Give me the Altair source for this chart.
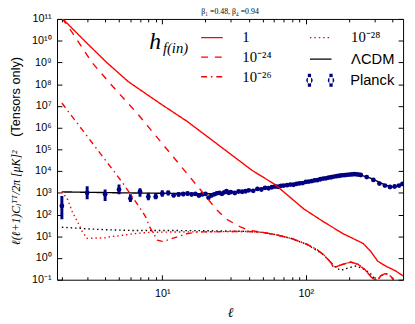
import altair as alt
import pandas as pd

title_text = "β₁ =0.48, β₄ =0.94"

# red solid, h_f(in) = 1
l_1 = [2, 3, 4.1, 5.8, 10, 14.8, 42, 61, 97, 133, 182, 250, 283, 316, 358, 419, 475]
d_1 = [1.1e11, 7.5e9, 1.0e9, 1.3e8, 1.1e7, 2.0e6, 1.1e4, 2.4e3, 178, 46, 13, 4.7, 2.0, 0.72, 0.43, 0.26, 0.15]
# red dashed, 1e-24
l_24 = [2, 2.37, 3.24, 4.22, 6.76, 7.9, 19.2, 23.7, 27.7, 35, 40]
d_24 = [1.1e11, 2.3e10, 1.0e9, 1.3e8, 4.2e6, 1.2e6, 1.0e3, 178, 63, 27, 19]
# red dash-dot, 1e-26
l_26 = [2, 5.2, 7.08, 7.66, 8.15, 9.25, 10, 10.8, 12.7, 14.8, 17.3]
d_26 = [1.35e7, 3.4e3, 178, 78, 27.5, 6.6, 5.8, 6.6, 9.3, 13, 15.6]
# red dotted, 1e-28
l_28 = [2, 2.19, 2.37, 2.57, 2.78, 3, 4, 4.4, 5, 6, 7, 8, 10, 14]
d_28 = [1150, 500, 128, 46, 16, 8, 8.5, 9.7, 10.5, 12.5, 14, 15, 15.5, 15.8]
# common high-l part of the red curves
l_tail = [20, 30, 40, 50, 61, 80, 102, 120, 133, 150, 156, 177, 205, 230, 258, 283, 300, 315, 331, 355, 375, 395, 410, 475]
d_tail = [16, 16.5, 16.5, 15, 12, 7.8, 4.2, 2.4, 1.4, 0.6, 0.35, 0.49, 0.65, 0.52, 0.29, 0.14, 0.1, 0.09, 0.15, 0.19, 0.18, 0.13, 0.09, 0.05]
# LCDM tensors (black dotted)
l_t = [2, 3, 4, 6, 10, 20, 36, 47, 61, 79, 102, 133, 150, 163, 175, 200, 224, 250, 280, 306, 330, 400, 475]
d_t = [26, 22, 20, 18.5, 18.5, 18, 17, 15.8, 12, 7.9, 4.2, 1.4, 0.6, 0.35, 0.27, 0.36, 0.43, 0.32, 0.2, 0.1, 0.06, 0.05, 0.04]
# LCDM total (black solid)
l_lcdm = [2, 5, 10, 20, 25, 30, 40, 50, 60, 80, 100, 130, 170, 200, 222, 245, 280, 316, 358, 400, 440, 475]
d_lcdm = [1100, 1000, 950, 900, 920, 1000, 1250, 1600, 1950, 2550, 3300, 4900, 6400, 7000, 7100, 6300, 4800, 3350, 2250, 1850, 2050, 2500]

# Planck low-l
pl_l_low = list(range(2, 30))
pl_d_low = [250, 1000, 850, 1410, 540, 1120, 660, 660, 910, 1000, 780, 850, 880, 930, 850, 900, 760, 850, 900, 600,
            760, 850, 950, 1000, 900, 1050, 1190, 1000]
pl_min_low = [60, 500, 420, 850, 380, 650, 450, 500, 660, 760, 600, 660, 690, 740, 680, 720, 610, 690, 730, 490,
              630, 710, 790, 840, 760, 890, 1010, 860]
pl_max_low = [720, 2000, 1410, 2380, 850, 1600, 1000, 930, 1320, 1290, 990, 1060, 1080, 1130, 1030, 1090, 920, 1020, 1070, 720,
              900, 1000, 1120, 1170, 1050, 1220, 1380, 1150]
# Planck high-l
pl_l_high = [30, 32, 34, 36, 38, 40, 43, 46, 49, 52, 55, 58, 61, 64, 67, 70, 74, 78, 82, 86, 90, 95, 100, 105, 110,
             115, 120, 126, 132, 138, 144, 150, 157, 164, 171, 178, 185, 193, 201, 209, 217, 225, 233, 241, 265, 295,
             325, 355, 385, 415, 445, 470]
pl_d_high = [1080, 980, 1150, 1120, 1180, 1300, 1230, 1500, 1420, 1700, 1620, 1800, 1950, 1900, 2100, 2150, 2250, 2400,
             2350, 2600, 2700, 2800, 3150, 3300, 3450, 3750, 3800, 4200, 4500, 4650, 5000, 5200, 5600, 5800, 6100, 6400,
             6500, 6700, 6900, 7000, 7200, 7100, 6900, 6600, 5300, 3900, 2650, 2150, 1850, 1950, 2150, 2550]
pl_e_high = [150, 140, 150, 140, 140, 150, 130, 150, 140, 150, 140, 150, 150, 140, 150, 140, 140, 150, 140, 150, 150,
             150, 160, 160, 160, 170, 170, 180, 190, 190, 200, 200, 210, 210, 220, 220, 220, 230, 230, 230, 240, 240,
             230, 230, 200, 150, 100, 80, 70, 70, 70, 80]

red_names = ["1", "10⁻²⁴", "10⁻²⁶"]
red_dashes = [[1, 0], [7, 7], [6, 4, 1.5, 4]]
dotted_name = "10⁻²⁸"
lcdm_name = "ΛCDM"
planck_name = "Planck"

x_major = [10, 100]
x_major_labels = ["10¹", "10²"]
x_minor = [2, 3, 4, 5, 6, 7, 8, 9, 20, 30, 40, 50, 60, 70, 80, 90, 200, 300, 400]
y_major = [1e-1, 1e0, 1e1, 1e2, 1e3, 1e4, 1e5, 1e6, 1e7, 1e8, 1e9, 1e10, 1e11]
y_major_labels = ["10⁻¹", "10⁰", "10¹", "10²", "10³", "10⁴", "10⁵", "10⁶", "10⁷", "10⁸", "10⁹", "10¹⁰", "10¹¹"]


def label_expr(vals, labs):
    expr = "'" + labs[-1] + "'"
    for v, lab in reversed(list(zip(vals[:-1], labs[:-1]))):
        expr = f"datum.value < {v * 2.0} ? '{lab}' : " + expr
    return expr


rows = []
for name, ls, ds in [("1", l_1, d_1), ("10⁻²⁴", l_24, d_24), ("10⁻²⁶", l_26, d_26)]:
    for l, d in zip(ls, ds):
        rows.append({"l": l, "D": d, "s": name})
    if name != "1":
        for l, d in zip(l_tail, d_tail):
            if l > ls[-1]:
                rows.append({"l": l, "D": d, "s": name})
red_df = pd.DataFrame(rows)
dot_rows = [{"l": l, "D": d, "s": dotted_name} for l, d in zip(l_28, d_28)]
dot_rows += [{"l": l, "D": d, "s": dotted_name} for l, d in zip(l_tail, d_tail) if l > l_28[-1]]
dot_df = pd.DataFrame(dot_rows)
lcdm_df = pd.DataFrame({"l": l_lcdm, "D": d_lcdm, "s": lcdm_name})
tens_df = pd.DataFrame({"l": l_t, "D": d_t})
low_df = pd.DataFrame({"l": pl_l_low, "D": pl_d_low, "lo": pl_min_low, "hi": pl_max_low})
high_df = pd.DataFrame({"l": pl_l_high, "D": pl_d_high,
                        "lo": [d - e for d, e in zip(pl_d_high, pl_e_high)],
                        "hi": [d + e for d, e in zip(pl_d_high, pl_e_high)]})
pl_df = pd.concat([low_df.assign(w="low"), high_df.assign(w="high")]).assign(s=planck_name)

xs = alt.Scale(type="log", domain=[1.85, 475], nice=False)
ys = alt.Scale(type="log", domain=[0.1, 1e11], nice=False)

common_ax = dict(grid=False, domain=False, tickColor="black", tickWidth=1)

ax_x_main = alt.Axis(orient="bottom", values=x_major, labelExpr=label_expr(x_major, x_major_labels),
                     tickSize=5, offset=-5, labelPadding=8, labelFont="Liberation Sans", labelFontSize=11,
                     labelColor="black", title="ℓ", titleFont="Liberation Serif", titleFontStyle="italic",
                     titleFontWeight="normal", titleFontSize=14, titleColor="black", titlePadding=8, **common_ax)
ax_y_main = alt.Axis(orient="left", values=y_major, labelExpr=label_expr(y_major, y_major_labels),
                     tickSize=5, offset=-5, labelPadding=6, labelFont="Liberation Sans", labelFontSize=11,
                     labelColor="black", title=None, **common_ax)
ax_x_minb = alt.Axis(orient="bottom", values=x_minor, tickSize=3, offset=-3, labels=False, title=None, **common_ax)
ax_y_right = alt.Axis(orient="right", values=y_major, tickSize=5, offset=-5, labels=False, title=None, **common_ax)
ax_x_top = alt.Axis(orient="top", values=x_major, tickSize=5, offset=-5, labels=False, title=None, **common_ax)
ax_y_t1 = alt.Axis(orient="left", ticks=False, labels=False, title="ℓ(ℓ+1)Cₗᵀᵀ/2π [μK]²",
                   titleFont="Liberation Serif", titleFontStyle="italic", titleFontWeight="normal",
                   titleFontSize=12, titleColor="black", titleX=-42, titleY=182, titleAngle=270,
                   titleAlign="center", titleBaseline="middle", **common_ax)
ax_x_topmin = alt.Axis(orient="top", values=x_minor, tickSize=3, offset=-3, labels=False, title=None, **common_ax)
ax_y_t2 = alt.Axis(orient="left", ticks=False, labels=False, title="(Tensors only)",
                   titleFont="Liberation Sans", titleFontWeight="normal",
                   titleFontSize=13, titleColor="black", titleX=-42, titleY=79, titleAngle=270,
                   titleAlign="center", titleBaseline="middle", **common_ax)

planck_path = ("M-1.15,-0.6H-0.85V0.6H-1.15Z M0.85,-0.6H1.15V0.6H0.85Z "
               "M-1.3,0A0.3,0.3 0 1,0 -0.7,0A0.3,0.3 0 1,0 -1.3,0Z "
               "M0.7,0A0.3,0.3 0 1,0 1.3,0A0.3,0.3 0 1,0 0.7,0Z")

leg_common = dict(title=None, orient="none", symbolSize=484, labelFontSize=15,
                  labelColor="black", labelOffset=19, rowPadding=0)
leg_red = alt.Legend(legendX=146, legendY=7, labelFont="Liberation Serif", symbolStrokeWidth=1.4, **leg_common)
leg_dot = alt.Legend(legendX=257, legendY=7, labelFont="Liberation Serif", symbolStrokeWidth=1.4, **leg_common)
leg_lcdm = alt.Legend(legendX=257, legendY=29, labelFont="Liberation Sans", symbolStrokeWidth=1.4, **leg_common)
leg_planck = alt.Legend(legendX=257, legendY=51, labelFont="Liberation Sans", symbolType=planck_path,
                        symbolFillColor="#000080", symbolStrokeColor="#000080", symbolStrokeWidth=0.3,
                        **leg_common)

tens = alt.Chart(tens_df).mark_line(clip=True, strokeWidth=1.4, color="black", strokeDash=[1.5, 3]).encode(
    x=alt.X("l:Q", scale=xs, axis=ax_x_main),
    y=alt.Y("D:Q", scale=ys, axis=ax_y_main),
)

lcdm = alt.Chart(lcdm_df).mark_line(clip=True, strokeWidth=1.4, color="black").encode(
    x=alt.X("l:Q", scale=xs, axis=ax_x_minb),
    y=alt.Y("D:Q", scale=ys, axis=ax_y_right),
    strokeDash=alt.StrokeDash("s:N", scale=alt.Scale(domain=[lcdm_name], range=[[1, 0]]), legend=leg_lcdm),
)

err = alt.Chart(pl_df).mark_rule(clip=True, color="#000080").encode(
    x=alt.X("l:Q", scale=xs, axis=ax_x_top),
    y=alt.Y("lo:Q", scale=ys, axis=ax_y_t1),
    y2="hi:Q",
    strokeWidth=alt.StrokeWidth("w:N", scale=alt.Scale(domain=["low", "high"], range=[3, 2]), legend=None),
)

pts = alt.Chart(pl_df).mark_circle(clip=True, color="#000080", opacity=1, size=24).encode(
    x=alt.X("l:Q", scale=xs, axis=ax_x_topmin),
    y=alt.Y("D:Q", scale=ys, axis=ax_y_t2),
    strokeDash=alt.StrokeDash("s:N", scale=alt.Scale(domain=[planck_name], range=[[1, 0]]), legend=leg_planck),
)

red = alt.Chart(red_df).mark_line(clip=True, strokeWidth=1.4, color="#ff0000").encode(
    x=alt.X("l:Q", scale=xs, axis=None),
    y=alt.Y("D:Q", scale=ys, axis=None),
    strokeDash=alt.StrokeDash("s:N", scale=alt.Scale(domain=red_names, range=red_dashes), legend=leg_red),
)

dot = alt.Chart(dot_df).mark_line(clip=True, strokeWidth=1.4, color="#ff0000").encode(
    x=alt.X("l:Q", scale=xs, axis=None),
    y=alt.Y("D:Q", scale=ys, axis=None),
    strokeDash=alt.StrokeDash("s:N", scale=alt.Scale(domain=[dotted_name], range=[[1.5, 3]]), legend=leg_dot),
)

h_df = pd.DataFrame({"t": ["h"]})
sub_df = pd.DataFrame({"t": ["f(in)"]})
h_txt = alt.Chart(h_df).mark_text(font="Liberation Serif", fontStyle="italic", fontSize=24, align="left",
                                  baseline="alphabetic", color="black").encode(
    x=alt.value(94), y=alt.value(31), text="t:N")
sub_txt = alt.Chart(sub_df).mark_text(font="Liberation Serif", fontStyle="italic", fontSize=15, align="left",
                                      baseline="alphabetic", color="black").encode(
    x=alt.value(108), y=alt.value(35), text="t:N")

chart = alt.layer(tens, lcdm, err, pts, dot, red, h_txt, sub_txt).resolve_axis(
    x="independent", y="independent"
).resolve_scale(strokeDash="independent").resolve_legend(strokeDash="independent").properties(
    width=353, height=266,
    padding={"left": 50, "top": 8, "right": 4, "bottom": 42},
    autosize=alt.AutoSizeParams(type="none"),
    title=alt.Title(title_text, font="Liberation Serif", fontSize=8, fontWeight="normal", color="black",
                    anchor="middle", frame="group", offset=0, dy=3),
).configure_view(stroke="black", strokeWidth=1)

chart.save("out.html", embed_options={"renderer": "svg", "actions": False})
